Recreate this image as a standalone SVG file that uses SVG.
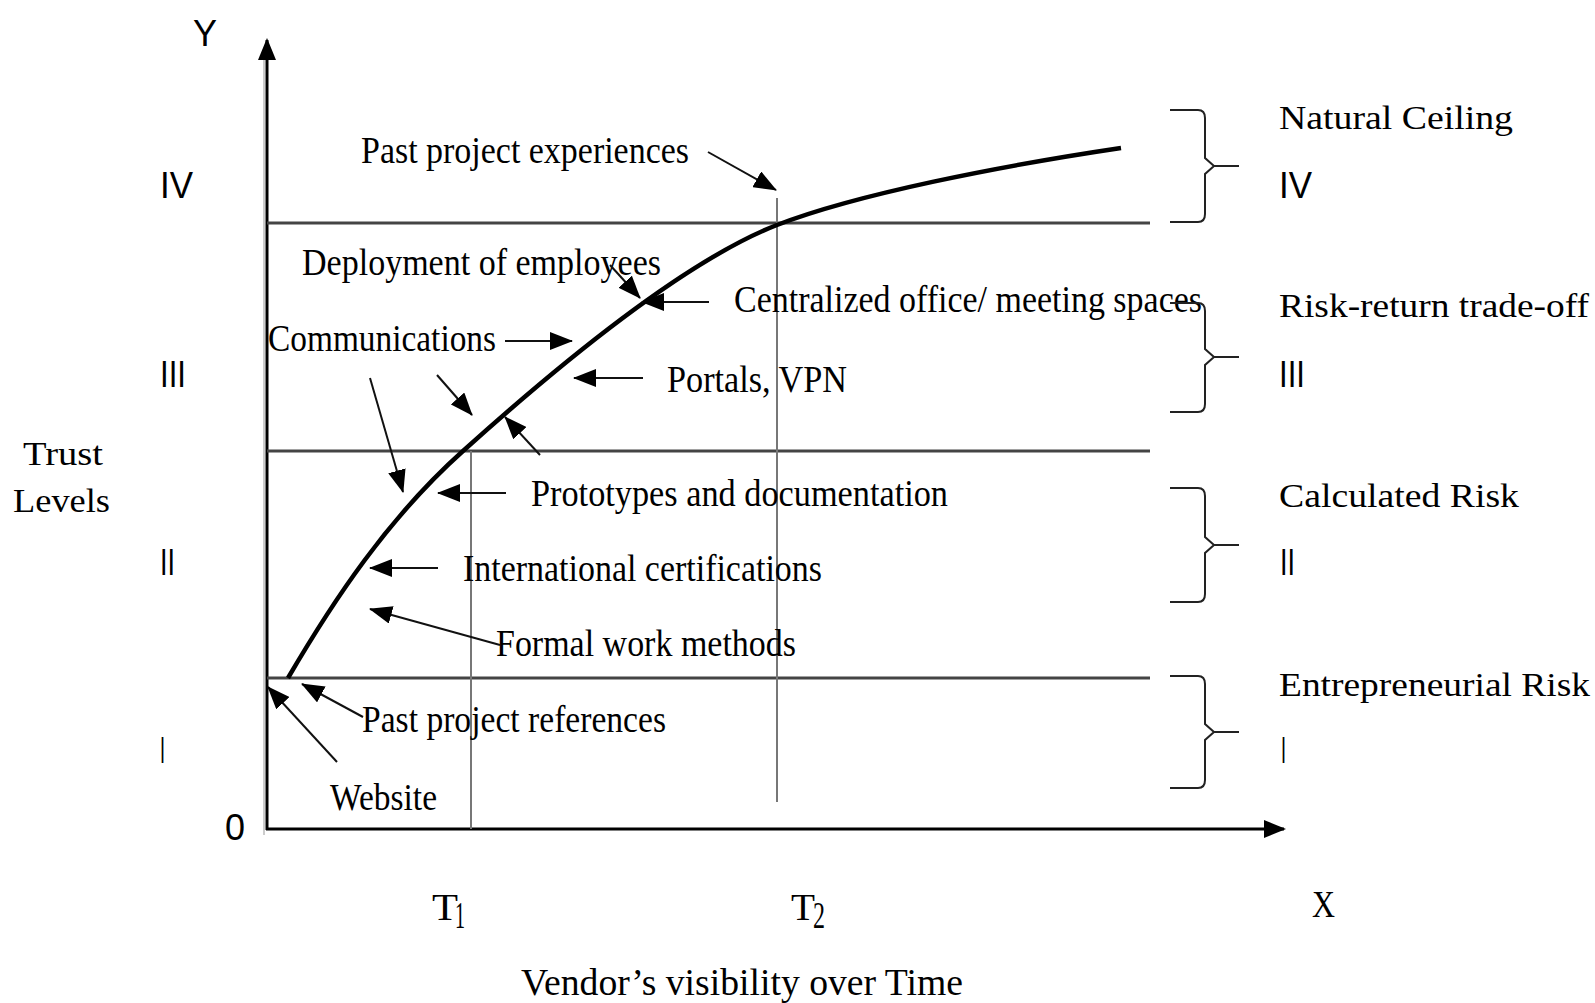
<svg xmlns="http://www.w3.org/2000/svg" width="1595" height="1003" viewBox="0 0 1595 1003">
<defs>
<style>
.lbl{font-family:"Liberation Serif",serif;font-size:38px;fill:#000}
.wide{font-family:"Liberation Serif",serif;font-size:34px;fill:#000}
.num{font-family:"Liberation Sans",sans-serif;font-size:36px;fill:#000}
.grid{stroke:#444;stroke-width:3;fill:none}
.vline{stroke:#777;stroke-width:2;fill:none}
.arr{stroke:#111;stroke-width:2;fill:none;marker-end:url(#ah)}
.brace{fill:none;stroke:#222;stroke-width:2}
.axis{stroke:#000;stroke-width:3;fill:none;marker-end:url(#axh)}
</style>
<marker id="ah" markerUnits="userSpaceOnUse" markerWidth="23" markerHeight="18" refX="22" refY="9" orient="auto">
<path d="M0,0 L23,9 L0,18 z" fill="#000"/>
</marker>
<marker id="axh" markerUnits="userSpaceOnUse" markerWidth="22" markerHeight="18" refX="20" refY="9" orient="auto">
<path d="M0,0 L22,9 L0,18 z" fill="#000"/>
</marker>
</defs>
<rect width="1595" height="1003" fill="#fff"/>

<g id="axes">
<line x1="264" y1="835" x2="264" y2="50" stroke="#ccc" stroke-width="2"/>
<line class="axis" x1="267" y1="830" x2="267" y2="40"/>
<line class="axis" x1="266" y1="829" x2="1284" y2="829"/>
<text class="num" x="205" y="46" text-anchor="middle">Y</text>
<text class="num" x="235" y="840" text-anchor="middle">0</text>
<text class="lbl" x="1312" y="917" textLength="23" lengthAdjust="spacingAndGlyphs">X</text>
</g>

<g id="grid">
<line class="grid" x1="267" y1="223" x2="1150" y2="223"/>
<line class="grid" x1="267" y1="451" x2="1150" y2="451"/>
<line class="grid" x1="267" y1="678" x2="1150" y2="678"/>
<line class="vline" x1="471" y1="451" x2="471" y2="829"/>
<line class="vline" x1="777" y1="198" x2="777" y2="802"/>
</g>

<g id="trust-curve">
<path d="M288,678 C333,601 388,518 463,451 C593,334 700,255 777,225 C857,194 1000,166 1121,148" fill="none" stroke="#000" stroke-width="4.5"/>
</g>

<g id="y-levels">
<text class="num" x="160" y="198" textLength="33" lengthAdjust="spacingAndGlyphs">IV</text>
<text class="num" x="160" y="387" textLength="26" lengthAdjust="spacingAndGlyphs">III</text>
<text class="num" x="160" y="575" textLength="15" lengthAdjust="spacingAndGlyphs">II</text>
<text class="num" x="160" y="763" textLength="5" lengthAdjust="spacingAndGlyphs">I</text>
<text class="wide" x="23" y="465" textLength="80" lengthAdjust="spacingAndGlyphs">Trust</text>
<text class="wide" x="13" y="512" textLength="97" lengthAdjust="spacingAndGlyphs">Levels</text>
</g>

<g id="x-labels">
<text class="lbl" x="432" y="920" textLength="26" lengthAdjust="spacingAndGlyphs">T</text>
<text class="lbl" x="455" y="928" font-size="24" textLength="10" lengthAdjust="spacingAndGlyphs">1</text>
<text class="lbl" x="791" y="920" textLength="24" lengthAdjust="spacingAndGlyphs">T</text>
<text class="lbl" x="813" y="928" font-size="24" textLength="12" lengthAdjust="spacingAndGlyphs">2</text>
<text class="lbl" x="521" y="995" textLength="442" lengthAdjust="spacingAndGlyphs">Vendor’s visibility over Time</text>
</g>

<g id="node-past-experiences"><text class="lbl" x="361" y="163" textLength="328" lengthAdjust="spacingAndGlyphs">Past project experiences</text></g>
<g id="node-deployment"><text class="lbl" x="302" y="275" textLength="359" lengthAdjust="spacingAndGlyphs">Deployment of employees</text></g>
<g id="node-centralized"><text class="lbl" x="734" y="312" textLength="468" lengthAdjust="spacingAndGlyphs">Centralized office/ meeting spaces</text></g>
<g id="node-communications"><text class="lbl" x="268" y="351" textLength="228" lengthAdjust="spacingAndGlyphs">Communications</text></g>
<g id="node-portals"><text class="lbl" x="667" y="392" textLength="180" lengthAdjust="spacingAndGlyphs">Portals, VPN</text></g>
<g id="node-prototypes"><text class="lbl" x="531" y="506" textLength="417" lengthAdjust="spacingAndGlyphs">Prototypes and documentation</text></g>
<g id="node-certifications"><text class="lbl" x="463" y="581" textLength="359" lengthAdjust="spacingAndGlyphs">International certifications</text></g>
<g id="node-formal"><text class="lbl" x="496" y="656" textLength="300" lengthAdjust="spacingAndGlyphs">Formal work methods</text></g>
<g id="node-past-references"><text class="lbl" x="362" y="732" textLength="304" lengthAdjust="spacingAndGlyphs">Past project references</text></g>
<g id="node-website"><text class="lbl" x="330" y="810" textLength="107" lengthAdjust="spacingAndGlyphs">Website</text></g>

<g id="connectors">
<line class="arr" x1="708" y1="152" x2="776" y2="190"/>
<line class="arr" x1="610" y1="265" x2="640" y2="298"/>
<line class="arr" x1="709" y1="302" x2="642" y2="302"/>
<line class="arr" x1="505" y1="341" x2="572" y2="341"/>
<line class="arr" x1="643" y1="378" x2="574" y2="378"/>
<line class="arr" x1="437" y1="375" x2="472" y2="415"/>
<line class="arr" x1="370" y1="378" x2="403" y2="492"/>
<line class="arr" x1="540" y1="455" x2="505" y2="417"/>
<line class="arr" x1="506" y1="493" x2="438" y2="493"/>
<line class="arr" x1="438" y1="568" x2="370" y2="568"/>
<line class="arr" x1="500" y1="645" x2="370" y2="609"/>
<line class="arr" x1="363" y1="717" x2="302" y2="684"/>
<line class="arr" x1="337" y1="762" x2="268" y2="687"/>
</g>

<g id="level-IV">
<path class="brace" d="M1170,110 L1198,110 Q1205,110 1205,118 L1205,158 L1214,166 L1239,166 M1214,166 L1205,174 L1205,214 Q1205,222 1198,222 L1170,222"/>
<text class="wide" x="1279" y="129" textLength="234" lengthAdjust="spacingAndGlyphs">Natural Ceiling</text>
<text class="num" x="1279" y="198" textLength="33" lengthAdjust="spacingAndGlyphs">IV</text>
</g>
<g id="level-III">
<path class="brace" d="M1170,303 L1198,303 Q1205,303 1205,311 L1205,349 L1214,357 L1239,357 M1214,357 L1205,365 L1205,404 Q1205,412 1198,412 L1170,412"/>
<text class="wide" x="1279" y="317" textLength="310" lengthAdjust="spacingAndGlyphs">Risk-return trade-off</text>
<text class="num" x="1279" y="387" textLength="26" lengthAdjust="spacingAndGlyphs">III</text>
</g>
<g id="level-II">
<path class="brace" d="M1170,488 L1198,488 Q1205,488 1205,496 L1205,537 L1214,545 L1239,545 M1214,545 L1205,553 L1205,594 Q1205,602 1198,602 L1170,602"/>
<text class="wide" x="1279" y="507" textLength="240" lengthAdjust="spacingAndGlyphs">Calculated Risk</text>
<text class="num" x="1280" y="575" textLength="15" lengthAdjust="spacingAndGlyphs">II</text>
</g>
<g id="level-I">
<path class="brace" d="M1170,676 L1198,676 Q1205,676 1205,684 L1205,724 L1214,732 L1239,732 M1214,732 L1205,740 L1205,780 Q1205,788 1198,788 L1170,788"/>
<text class="wide" x="1279" y="696" textLength="311" lengthAdjust="spacingAndGlyphs">Entrepreneurial Risk</text>
<text class="num" x="1281" y="763" textLength="5" lengthAdjust="spacingAndGlyphs">I</text>
</g>
</svg>
